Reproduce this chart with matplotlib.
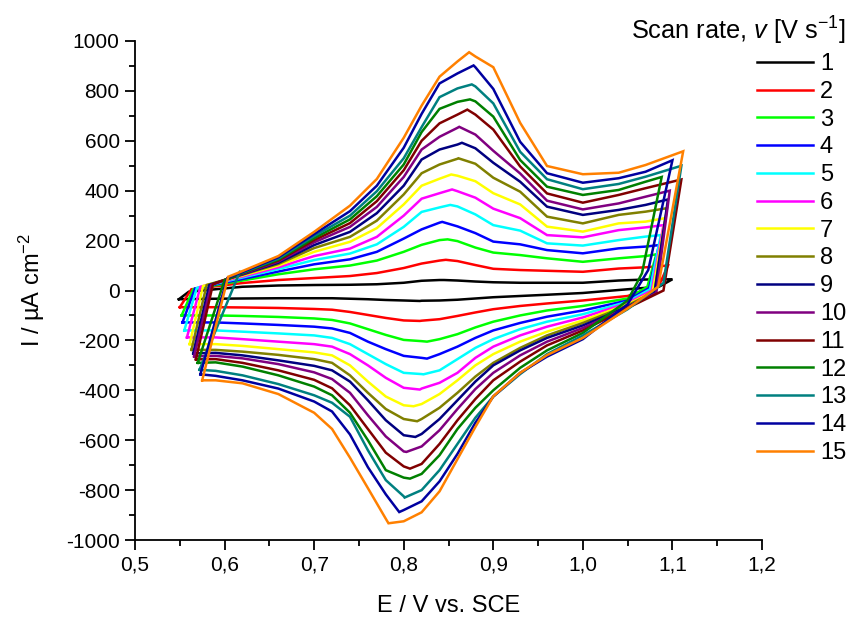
import matplotlib
matplotlib.use("Agg")
import matplotlib.pyplot as plt
from matplotlib.ticker import MultipleLocator, FuncFormatter

plt.rcParams['font.family'] = ['Liberation Sans', 'DejaVu Sans']
plt.rcParams['mathtext.fontset'] = 'custom'
plt.rcParams['mathtext.rm'] = 'Liberation Sans'
plt.rcParams['mathtext.it'] = 'Liberation Sans:italic'

# Scan rates (V/s) and line colours
scan_rates = [str(i) for i in range(1, 16)]
colors = ['#000000', '#FF0000', '#00FF00', '#0000FF', '#00FFFF', '#FF00FF',
          '#FFFF00', '#808000', '#000080', '#800080', '#800000', '#008000',
          '#008080', '#0000A0', '#FF8000']

# Left vertex (start of anodic sweep): potential / current
e_min = [0.549, 0.550, 0.552, 0.553, 0.555, 0.558, 0.561, 0.563, 0.565, 0.566,
         0.568, 0.570, 0.572, 0.573, 0.575]
i_min = [-35, -67, -100, -128, -160, -188, -215, -238, -252, -264,
         -276, -290, -318, -336, -360]

# Knee where the anodic sweep leaves the vertical rise
e_knee = [0.560, 0.563, 0.565, 0.567, 0.569, 0.573, 0.576, 0.580, 0.583, 0.585,
          0.587, 0.600, 0.617, 0.603, 0.604]
i_knee = [-5, 5, 5, 8, 10, 15, 18, 22, 22, 22, 25, 42, 75, 50, 55]

# Anodic sweep, common potential grid (V) and current density (uA/cm2)
e_fwd = [0.62, 0.66, 0.70, 0.74, 0.77, 0.80, 0.82, 0.84, 0.86, 0.88, 0.90,
         0.93, 0.96, 1.00, 1.04, 1.07]
i_fwd = [
    [15, 20, 22, 23, 25, 31, 39, 42, 40, 36, 33, 31, 31, 31, 40, 44],
    [30, 42, 50, 58, 70, 90, 108, 120, 118, 102, 87, 82, 79, 75, 88, 93],
    [40, 65, 85, 100, 120, 155, 183, 202, 198, 172, 152, 142, 129, 115, 129, 138],
    [46, 76, 105, 125, 155, 208, 245, 272, 257, 230, 196, 185, 162, 149, 169, 176],
    [52, 86, 122, 148, 185, 255, 315, 333, 337, 305, 262, 240, 189, 180, 202, 216],
    [56, 93, 138, 168, 215, 300, 368, 390, 398, 372, 328, 290, 222, 213, 242, 253],
    [60, 100, 155, 195, 250, 345, 420, 448, 460, 438, 390, 345, 256, 236, 269, 276],
    [63, 106, 170, 215, 280, 385, 470, 505, 528, 508, 452, 396, 296, 269, 303, 316],
    [65, 111, 182, 235, 310, 420, 525, 565, 585, 570, 512, 436, 336, 303, 323, 343],
    [67, 116, 193, 255, 335, 455, 565, 616, 652, 625, 560, 469, 360, 325, 349, 376],
    [69, 120, 202, 270, 358, 482, 600, 670, 705, 705, 645, 497, 389, 352, 383, 410],
    [70, 124, 210, 285, 378, 505, 635, 728, 756, 758, 697, 523, 416, 383, 403, 436],
    [72, 128, 218, 300, 398, 530, 655, 775, 810, 818, 750, 556, 446, 406, 427, 456],
    [74, 133, 226, 318, 420, 572, 708, 830, 870, 895, 808, 596, 470, 432, 450, 476],
    [78, 138, 235, 340, 447, 612, 741, 857, 918, 938, 895, 672, 499, 466, 472, 503],
]

# Anodic peaks
e_pa = [0.845, 0.847, 0.849, 0.843, 0.852, 0.854, 0.853, 0.861, 0.865, 0.862,
        0.871, 0.874, 0.876, 0.878, 0.873]
i_pa = [42, 123, 205, 275, 343, 405, 465, 530, 592, 656, 725, 766, 826, 902, 955]

# Right (switching) vertex
e_max = [1.100, 1.095, 1.082, 1.085, 1.087, 1.090, 1.092, 1.094, 1.095, 1.097,
         1.110, 1.088, 1.110, 1.100, 1.112]
i_max = [45, 100, 145, 182, 222, 262, 290, 330, 365, 400, 445, 455, 500, 522, 558]

# Foot of the drop after switching
e_turn = [1.085, 1.085, 1.072, 1.074, 1.075, 1.077, 1.078, 1.080, 1.080, 1.082,
          1.090, 1.066, 1.090, 1.073, 1.084]
i_turn = [15, 20, 15, 10, 5, 0, -5, -5, -10, -10, 0, 69, 30, 82, 15]

# Cathodic sweep, common potential grid (V) and current density (uA/cm2)
e_rev = [1.05, 1.00, 0.96, 0.93, 0.90, 0.88, 0.86, 0.84, 0.82, 0.80, 0.78,
         0.76, 0.74, 0.72, 0.70, 0.66, 0.62, 0.59]
i_rev = [
    [5, -10, -17, -22, -27, -32, -37, -40, -41, -40, -38, -35, -33, -31, -31, -31, -32, -33],
    [-22, -40, -52, -62, -75, -88, -102, -115, -121, -120, -110, -98, -86, -77, -74, -70, -68, -67],
    [-32, -62, -80, -100, -125, -148, -175, -195, -203, -198, -178, -155, -132, -118, -112, -106, -102, -100],
    [-40, -80, -105, -130, -160, -190, -225, -255, -270, -262, -235, -205, -170, -152, -145, -138, -132, -128],
    [-45, -95, -125, -155, -195, -230, -275, -320, -335, -330, -295, -255, -215, -190, -180, -172, -165, -160],
    [-50, -108, -145, -180, -225, -270, -330, -370, -393, -390, -350, -300, -255, -225, -215, -205, -195, -188],
    [-55, -120, -165, -205, -255, -300, -360, -415, -455, -460, -425, -365, -300, -260, -248, -235, -222, -215],
    [-60, -130, -180, -230, -290, -345, -410, -470, -515, -515, -475, -410, -340, -290, -275, -258, -245, -238],
    [-65, -140, -190, -240, -300, -365, -440, -515, -575, -580, -520, -440, -365, -320, -302, -280, -260, -250],
    [-68, -150, -205, -260, -330, -395, -475, -560, -625, -645, -585, -500, -410, -355, -328, -295, -272, -262],
    [-70, -160, -220, -285, -360, -435, -520, -615, -695, -705, -650, -555, -460, -392, -358, -320, -290, -275],
    [-40, -170, -240, -310, -400, -470, -555, -660, -735, -750, -720, -600, -490, -420, -385, -340, -305, -288],
    [-75, -180, -255, -335, -425, -510, -615, -720, -800, -825, -760, -640, -506, -450, -420, -375, -340, -322],
    [-55, -195, -265, -330, -425, -530, -655, -765, -845, -880, -817, -708, -577, -485, -445, -393, -360, -342],
    [-72, -190, -259, -330, -424, -547, -676, -805, -889, -925, -915, -792, -670, -555, -490, -415, -372, -360],
]

# Cathodic peaks
e_pc = [0.818, 0.818, 0.826, 0.826, 0.822, 0.818, 0.811, 0.815, 0.813, 0.803,
        0.807, 0.807, 0.801, 0.795, 0.783]
i_pc = [-42, -122, -205, -273, -336, -397, -464, -524, -587, -647, -714, -754,
        -830, -888, -933]

fig = plt.figure(figsize=(8.5, 6.19), dpi=100)
ax = fig.add_axes([135 / 850, 1 - 540 / 619, (762 - 135) / 850, (540 - 41) / 619])

handles = []
for k in range(len(scan_rates)):
    fwd = sorted(list(zip(e_fwd, i_fwd[k])) + [(e_pa[k], i_pa[k])])
    rev = sorted(list(zip(e_rev, i_rev[k])) + [(e_pc[k], i_pc[k])], reverse=True)
    pts = ([(e_min[k], i_min[k]), (e_knee[k], i_knee[k])] + fwd
           + [(e_max[k], i_max[k]), (e_turn[k], i_turn[k])] + rev
           + [(e_min[k], i_min[k])])
    xs = [p[0] for p in pts]
    ys = [p[1] for p in pts]
    line, = ax.plot(xs, ys, color=colors[k], lw=1.8, solid_joinstyle='miter')
    handles.append(line)

ax.set_xlim(0.5, 1.2)
ax.set_ylim(-1000, 1000)
ax.xaxis.set_major_locator(MultipleLocator(0.1))
ax.xaxis.set_minor_locator(MultipleLocator(0.05))
ax.yaxis.set_major_locator(MultipleLocator(200))
ax.yaxis.set_minor_locator(MultipleLocator(100))
ax.xaxis.set_major_formatter(FuncFormatter(lambda v, p: f"{v:.1f}".replace('.', ',')))
ax.yaxis.set_major_formatter(FuncFormatter(lambda v, p: f"{v:.0f}"))

for side in ('top', 'right'):
    ax.spines[side].set_visible(False)
for side in ('left', 'bottom'):
    ax.spines[side].set_linewidth(1.3)
ax.tick_params(which='major', direction='out', length=7, width=1.3, labelsize=15, pad=4)
ax.tick_params(which='minor', direction='out', length=4, width=1.3)

ax.set_xlabel('E / V vs. SCE', fontsize=17, labelpad=15)
ax.set_ylabel('I / µA cm$^{-2}$', fontsize=17, labelpad=14)

leg = fig.legend(handles, scan_rates, loc='upper right',
                 bbox_to_anchor=(846 / 850, 1 - 15 / 619),
                 bbox_transform=fig.transFigure,
                 title='Scan rate, $v$ [V s$^{-1}$]', title_fontsize=18.3,
                 fontsize=17, frameon=False, handlelength=2.35,
                 handletextpad=0.3, labelspacing=0.245, borderpad=0,
                 borderaxespad=0, alignment='right')
for lh in leg.get_lines():
    lh.set_linewidth(1.8)

fig.savefig('out.png', dpi=100)
